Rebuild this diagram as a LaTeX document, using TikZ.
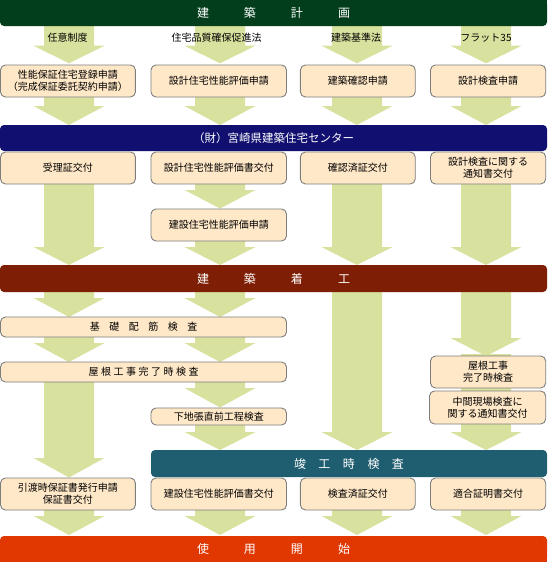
\documentclass[tikz,border=0pt]{standalone}
\usepackage{fontspec}
\setmainfont{Noto Sans CJK JP}
\definecolor{topgreen}{RGB}{2,62,28}
\definecolor{navy}{RGB}{17,16,112}
\definecolor{brown}{RGB}{126,30,4}
\definecolor{teal}{RGB}{31,94,112}
\definecolor{redbar}{RGB}{224,56,0}
\definecolor{arrowc}{RGB}{217,225,158}
\definecolor{boxfill}{RGB}{255,232,200}
\definecolor{boxline}{RGB}{125,125,125}
\tikzset{
  boxst/.style={draw=boxline, fill=boxfill, rounded corners=5pt, line width=0.9pt,
    align=center, inner sep=0pt, font=\fontsize{10}{12}\selectfont},
  barst/.style={fill=#1, rounded corners=4pt, text=white, inner sep=0pt,
    font=\fontsize{12}{14}\selectfont},
  lbl/.style={inner sep=0pt, font=\fontsize{10}{12}\selectfont},
  arrowst/.style={fill=arrowc}
}
\newcommand\farrow[4]{\fill[arrowst] ({#1-25},{#2}) -- ({#1+25},{#2}) -- ({#1+25},{#3}) -- ({#1+35.5},{#3}) -- ({#1},{#4}) -- ({#1-35.5},{#3}) -- ({#1-25},{#3}) -- cycle;}
\newcommand\bx[6]{\node[boxst, minimum width={#4-#2}, minimum height={#5-#3}] (#1) at ({(#2+#4)/2},{(#3+#5)/2}) {#6};}
\newcommand\barnode[7]{\node[barst=#6, minimum width={#4-#2}, minimum height={#5-#3}] (#1) at ({(#2+#4)/2},{(#3+#5)/2}) {#7};}
\begin{document}
\begin{tikzpicture}[x=1pt,y=-1pt]
\useasboundingbox (0,0) rectangle (547,562);
% columns
\def\ca{69}\def\cb{220}\def\cc{357}\def\cd{486}
% arrows
\foreach \c in {\ca,\cb,\cc,\cd}{
  \farrow{\c}{20}{45.7}{63.3}
  \farrow{\c}{95}{106}{125}
  \farrow{\c}{508}{516}{535}
}
\farrow{\ca}{182}{247}{265}
\farrow{\cb}{182}{190}{208.5}
\farrow{\cb}{239}{247}{265}
\farrow{\cc}{182}{247}{265}
\farrow{\cd}{182}{247}{265}
\farrow{\ca}{290}{298}{317}
\farrow{\cb}{290}{298}{317}
\farrow{\cc}{290}{432}{450}
\farrow{\cd}{290}{338}{356}
\farrow{\ca}{335}{343}{362}
\farrow{\cb}{335}{343}{362}
\farrow{\ca}{380}{458}{477.5}
\farrow{\cb}{380}{388}{407.5}
\farrow{\cb}{423}{432}{450}
\farrow{\cd}{354}{432}{450}
% column labels
\node[lbl] (l1) at (67.5,37.7) {任意制度};
\node[lbl] (l2) at (216.5,37.7) {住宅品質確保促進法};
\node[lbl] (l3) at (356,37.7) {建築基準法};
\node[lbl] (l4) at (486,37.7) {フラット35};
% bars
\fill[topgreen] (0,0) rectangle (547,12);
\barnode{plan}{0}{0}{547}{26}{topgreen}{建\hspace{35pt}築\hspace{35pt}計\hspace{35pt}画}
\barnode{center}{0}{125}{547}{151}{navy}{\fontsize{11.5}{14}\selectfont （財）宮崎県建築住宅センター}
\barnode{start}{0}{265}{547}{292}{brown}{建\hspace{35pt}築\hspace{35pt}着\hspace{35pt}工}
\barnode{fin}{151}{450}{547}{477}{teal}{竣\hspace{12.5pt}工\hspace{12.5pt}時\hspace{12.5pt}検\hspace{12.5pt}査}
\fill[redbar] (0,550) rectangle (547,562);
\barnode{use}{0}{536}{547}{562}{redbar}{使\hspace{35pt}用\hspace{35pt}開\hspace{35pt}始}
% boxes
\bx{b11}{0.5}{65}{135.4}{97}{性能保証住宅登録申請\\（完成保証委託契約申請）}
\bx{b12}{151}{65}{286.5}{97}{設計住宅性能評価申請}
\bx{b13}{300.4}{65}{415.2}{97}{建築確認申請}
\bx{b14}{430.5}{65}{545.7}{97}{設計検査申請}
\bx{b21}{0.5}{152}{135.4}{184}{受理証交付}
\bx{b22}{151}{152}{286.5}{184}{設計住宅性能評価書交付}
\bx{b23}{300.4}{152}{415.2}{184}{確認済証交付}
\bx{b24}{430.5}{152}{545.7}{184}{設計検査に関する\\通知書交付}
\bx{b25}{151}{209}{286.5}{241}{建設住宅性能評価申請}
\bx{k1}{0.5}{317}{286.5}{337}{基\hspace{9.5pt}礎\hspace{9.5pt}配\hspace{9.5pt}筋\hspace{9.5pt}検\hspace{9.5pt}査}
\bx{k2}{0.5}{362}{286.5}{382}{屋\hspace{2.5pt}根\hspace{2.5pt}工\hspace{2.5pt}事\hspace{2.5pt}完\hspace{2.5pt}了\hspace{2.5pt}時\hspace{2.5pt}検\hspace{2.5pt}査}
\bx{b26}{151}{408}{286.5}{425}{下地張直前工程検査}
\bx{b41}{430.5}{356}{545.7}{388}{屋根工事\\完了時検査}
\bx{b42}{429.5}{391}{545.7}{424}{中間現場検査に\\関する通知書交付}
\bx{b51}{0.5}{478}{135.4}{510}{引渡時保証書発行申請\\保証書交付}
\bx{b52}{151}{478}{286.5}{510}{建設住宅性能評価書交付}
\bx{b53}{300.4}{478}{415.2}{510}{検査済証交付}
\bx{b54}{430.5}{478}{545.7}{510}{適合証明書交付}
\end{tikzpicture}
\end{document}
